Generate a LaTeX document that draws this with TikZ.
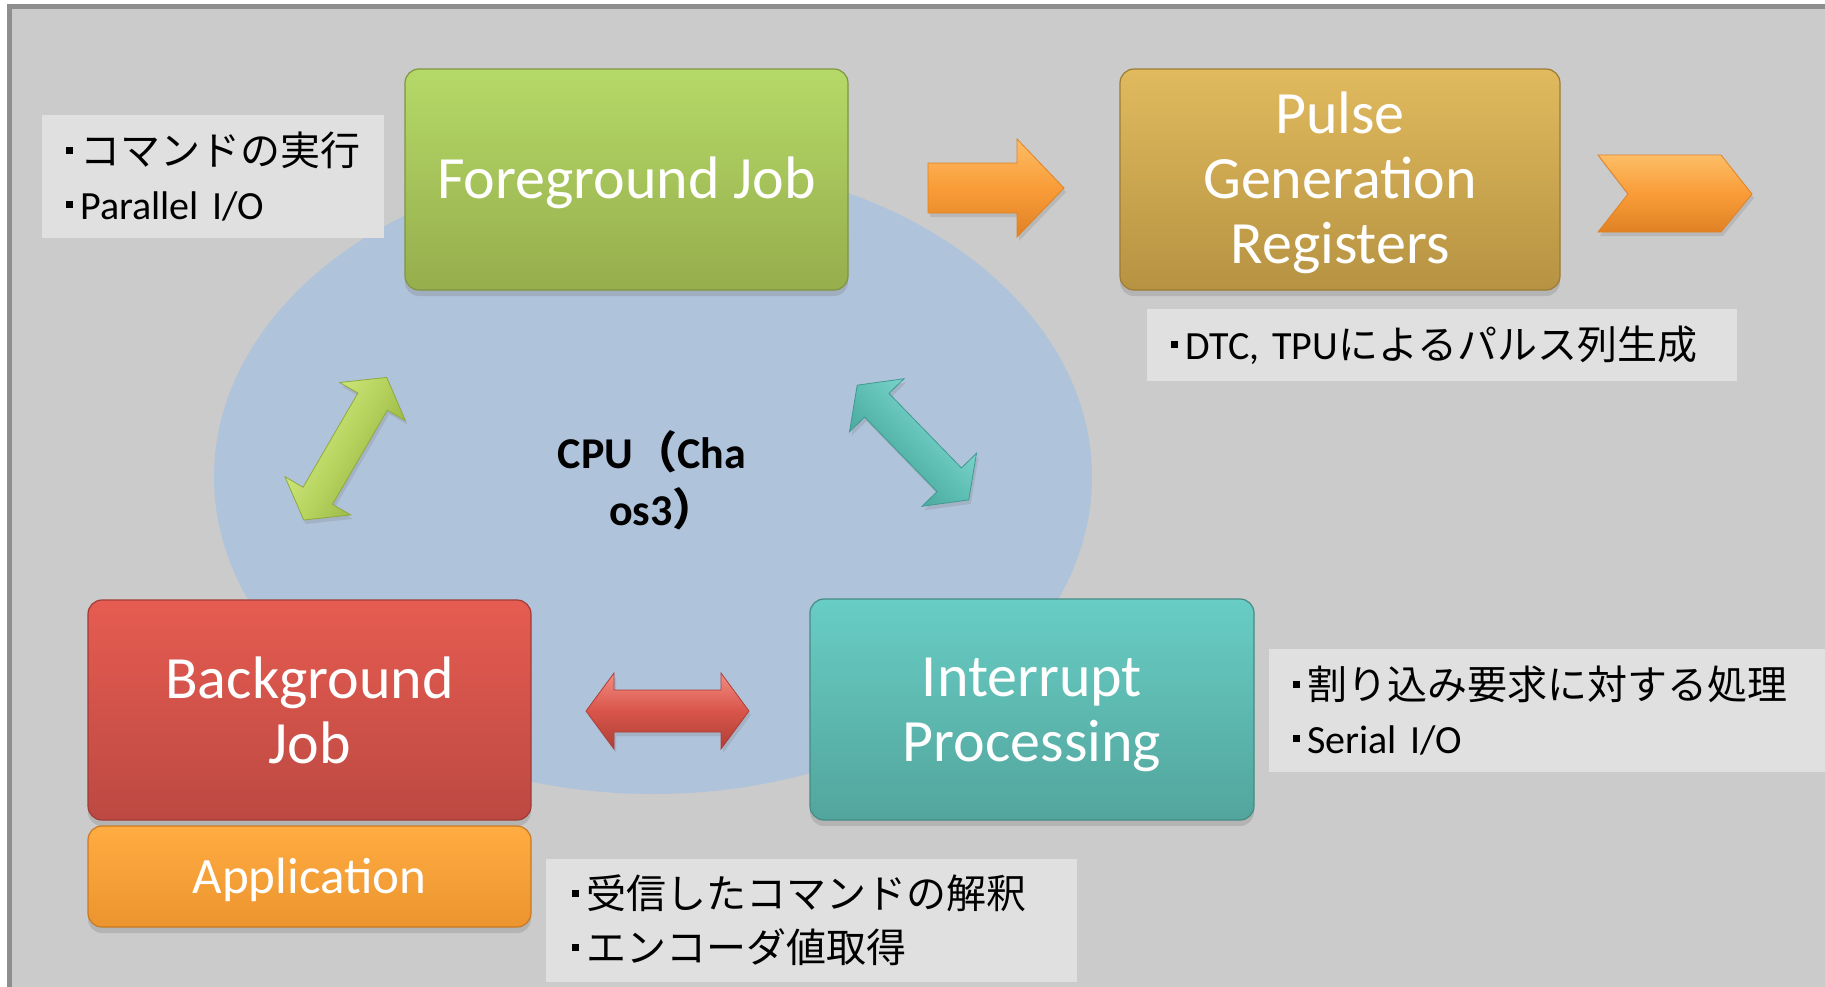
\documentclass[tikz,border=0pt]{standalone}
\usepackage{fontspec}
\setmainfont{Carlito}
\newfontfamily\jp{Noto Sans CJK JP}
\usetikzlibrary{shadows}
\definecolor{bgc}{HTML}{CBCBCB}
\definecolor{framec}{HTML}{8E8E8E}
\definecolor{ellc}{HTML}{AFC3DB}
\definecolor{notec}{HTML}{E0E0E0}
\definecolor{grT}{HTML}{B5D968}\definecolor{grB}{HTML}{96AE4C}\definecolor{grD}{HTML}{7E9640}
\definecolor{goT}{HTML}{E1BA5E}\definecolor{goB}{HTML}{B69342}\definecolor{goD}{HTML}{9C7C34}
\definecolor{rdT}{HTML}{E65C51}\definecolor{rdB}{HTML}{BC4942}\definecolor{rdD}{HTML}{A03C36}
\definecolor{tlT}{HTML}{68CDC5}\definecolor{tlB}{HTML}{52A59C}\definecolor{tlD}{HTML}{448C84}
\definecolor{orT}{HTML}{FFAC42}\definecolor{orB}{HTML}{EC942E}\definecolor{orD}{HTML}{C97A22}
\definecolor{gaL}{HTML}{DDF08E}\definecolor{gaM}{HTML}{B5D35D}\definecolor{gaD}{HTML}{8FAA3C}
\definecolor{taL}{HTML}{8FE0D8}\definecolor{taM}{HTML}{5EBFB5}\definecolor{taD}{HTML}{3F9A90}
\definecolor{raL}{HTML}{F28C82}\definecolor{raM}{HTML}{D9554A}\definecolor{raD}{HTML}{AE3F38}
\definecolor{oaL}{HTML}{FDBD66}\definecolor{oaM}{HTML}{F99C38}\definecolor{oaD}{HTML}{E08224}
\newcommand{\bul}{\rule[5.7pt]{3.6pt}{3.6pt}\hspace{3.5pt}}
\newcommand{\lowr}[1]{\raisebox{-3pt}[\height][\depth]{\begin{tabular}{@{}c@{}}#1\end{tabular}}}
\newcommand{\dblarrow}[7]{%
  \begin{scope}[shift={(#2,#3)}, rotate=#4]
    \coordinate (#1) at (0,0);
    \shade[top color=#7L, bottom color=#7D, middle color=#7M, shading angle=#4,
           draw=#7D, line width=0.4pt, arrshadow]
      (-#5,0) -- ({-#5+28},-38) -- ({-#5+28},-#6) -- ({#5-28},-#6) -- ({#5-28},-38)
      -- (#5,0) -- ({#5-28},38) -- ({#5-28},#6) -- ({-#5+28},#6) -- ({-#5+28},38) -- cycle;
  \end{scope}}
\begin{document}
\begin{tikzpicture}[x=0.5pt,y=-0.5pt,
  arrshadow/.style={drop shadow={shadow xshift=1pt, shadow yshift=-2pt, opacity=0.25}},
  box/.style={rounded corners=7pt, line width=0.6pt, minimum width=221.5pt,
    minimum height=110.5pt, text=white, align=center, inner sep=0pt,
    font=\fontsize{30pt}{32.5pt}\selectfont,
    drop shadow={shadow xshift=0pt, shadow yshift=-3pt, opacity=0.3}},
  note/.style={fill=notec, inner xsep=12pt, inner ysep=0pt, align=left, text=black,
    font=\fontsize{20pt}{27pt}\selectfont, minimum height=61.5pt},
  cpu/.style={align=center, text=black, font=\fontsize{22pt}{28.5pt}\selectfont\bfseries}
]
\useasboundingbox (0,0) rectangle (1825,986);
\clip (0,0) rectangle (1825,986);
\fill[white] (0,0) rectangle (1825,986);
\filldraw[fill=bgc, draw=framec, line width=2.5pt] (9.5,6.5) rectangle (1850,1010);

% CPU ellipse
\fill[ellc] (653,477) ellipse [x radius=439, y radius=317];
\node[cpu] (cpu) at (652,480) {CPU{\jp\bfseries （}Cha\\\hspace*{0.5em}os3{\jp\bfseries ）}};

% main boxes
\node[box, top color=grT, bottom color=grB, draw=grD] (fg) at (626.5,179.5) {\lowr{Foreground Job}};
\node[box, top color=goT, bottom color=goB, draw=goD, minimum width=220pt] (pg) at (1340,179.5) {\lowr{Pulse\\Generation\\Registers}};
\node[box, top color=rdT, bottom color=rdB, draw=rdD, minimum height=110pt] (bg) at (309.5,710) {Background\\Job};
\node[box, top color=orT, bottom color=orB, draw=orD, minimum height=50.5pt,
      font=\fontsize{25.5pt}{28pt}\selectfont] (app) at (309.5,876.5) {\raisebox{-1.5pt}[\height][\depth]{Application}};
\node[box, top color=tlT, bottom color=tlB, draw=tlD, minimum width=222pt] (ip) at (1032,709.5) {\lowr{Interrupt\\Processing}};

% notes
\node[note, text width=147pt] (n1) at (213,176.5) {\mbox{\bul{\jp コマンドの実行}}\\\mbox{\bul Parallel I/O}};
\node[note, text width=271pt, minimum height=36pt] (n2) at (1442,345) {\mbox{\bul DTC, TPU{\jp によるパルス列生成}}};
\node[note, text width=254pt] (n3) at (1547,710.5) {\mbox{\bul{\jp 割り込み要求に対する処理}}\\\mbox{\bul Serial I/O}};
\node[note, text width=239.5pt, inner xsep=13pt] (n4) at (811.5,920.5) {\mbox{\bul{\jp 受信したコマンドの解釈}}\\\mbox{\bul{\jp エンコーダ値取得}}};

% double arrows
\dblarrow{ga}{345.2}{448.7}{59.8}{82.5}{17}{ga}
\dblarrow{ta}{913}{442.5}{-45.8}{80}{17}{ta}
\dblarrow{ra}{667.5}{711}{0}{81.5}{21}{ra}

% orange arrows
\shade[top color=oaL, bottom color=oaD, middle color=oaM, draw=oaD, line width=0.4pt, arrshadow]
  (928,163) -- (1017,163) -- (1017,139) -- (1064,188) -- (1017,237) -- (1017,213) -- (928,213) -- cycle;
\shade[top color=oaL, bottom color=oaD, middle color=oaM, draw=oaD, line width=0.4pt, arrshadow]
  (1598,155) -- (1721,155) -- (1752,194) -- (1721,232) -- (1598,232) -- (1628,194) -- cycle;
\end{tikzpicture}
\end{document}
